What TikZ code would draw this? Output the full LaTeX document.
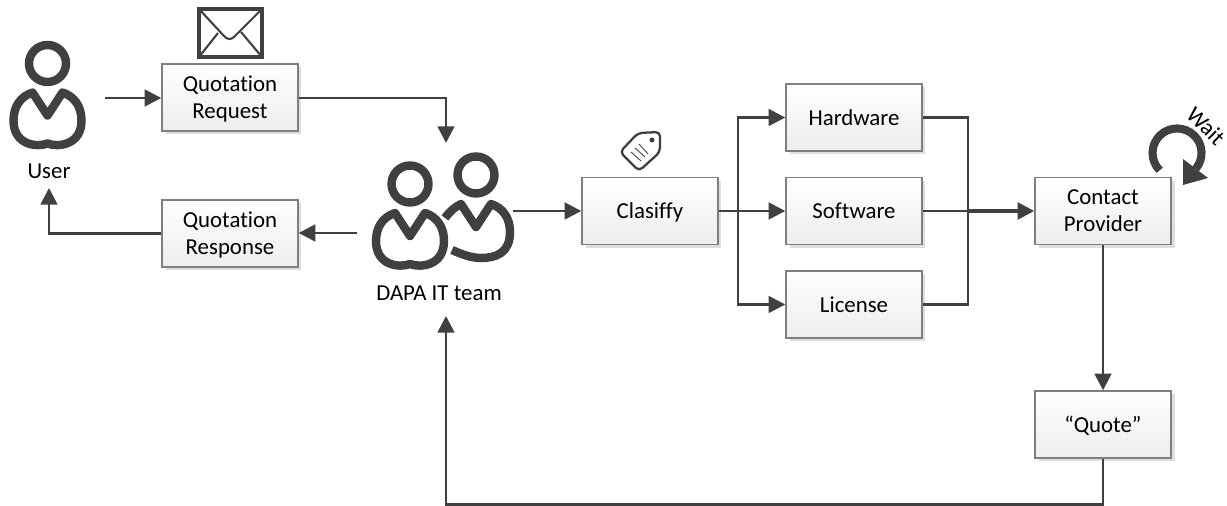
\documentclass[tikz,border=0pt]{standalone}
\usepackage{fontspec}
\setmainfont[Ligatures=NoCommon]{Carlito}
\usepackage{tikz}
\usetikzlibrary{arrows.meta}
\usetikzlibrary{shadows}
\definecolor{icongray}{HTML}{404040}
\definecolor{boxedge}{HTML}{7F7F7F}
\tikzset{
    procbox/.style={draw=boxedge, line width=0.8pt, top color=white, bottom color=black!7,
        minimum width=2.72cm, minimum height=1.34cm, inner sep=0pt, align=center,
        font=\fontsize{13}{15.3}\selectfont, text=black, text depth=0pt,
        general shadow={fill=black!13, shadow xshift=0.07cm, shadow yshift=-0.07cm}},
    caption/.style={font=\fontsize{13}{15.3}\selectfont, text=black},
    flow/.style={draw=icongray, line width=1.5pt, -{Triangle[length=9.5pt,width=9.5pt]}},
    flowline/.style={draw=icongray, line width=1.5pt},
    icon/.style={draw=icongray, line width=4.8pt, line join=round}
}
\newcommand{\personhead}[2]{\draw[icon] (#1,#2) circle (18.5);}
\begin{document}
\begin{tikzpicture}[x=0.02cm,y=0.02cm]
    \useasboundingbox (0,0) rectangle (1227,506);
    % boxes
    \node[procbox] (request) at (230,408.5) {Quotation\\Request};
    \node[procbox] (response) at (230,272.5) {Quotation\\Response};
    \node[procbox] (classify) at (650,295) {Clasiffy};
    \node[procbox] (hardware) at (854,388.5) {Hardware};
    \node[procbox] (software) at (854,295) {Software};
    \node[procbox] (license) at (854,201.5) {License};
    \node[procbox] (contact) at (1103,295) {Contact\\Provider};
    \node[procbox] (quote) at (1103,81.5) {“Quote”};
    % captions
    \node[caption] (user) at (49,335) {User};
    \node[caption] (team) at (439,213) {DAPA IT team};
    \node[caption, rotate=-45] (wait) at (1206,380) {Wait};
    % free ends
    \coordinate (userout) at (105,408);
    \coordinate (userin) at (49,318);
    \coordinate (teamtop) at (446,363);
    \coordinate (teambottom) at (446,190);
    \coordinate (teamout) at (513,295);
    \coordinate (teamin) at (357,273);
    \coordinate (split) at (738,295);
    \coordinate (merge) at (968,295);
    % person on the left
    \personhead{47.5}{442.5}
    \draw[icon] (47.5,362.5) .. controls (57.5,358.5) and (81.5,360.5) .. (81.5,385.5)
        .. controls (81.5,399.5) and (74.5,409.5) .. (62.5,413.5) -- (47.5,390.5) -- (32.5,413.5)
        .. controls (20.5,409.5) and (13.5,399.5) .. (13.5,385.5)
        .. controls (13.5,360.5) and (37.5,358.5) .. (47.5,362.5) -- cycle;
    % team
    \personhead{410}{322}
    \draw[icon] (410,242) .. controls (420,238) and (444,240) .. (444,265)
        .. controls (444,279) and (437,289) .. (425,293) -- (410,270) -- (395,293)
        .. controls (383,289) and (376,279) .. (376,265)
        .. controls (376,240) and (400,238) .. (410,242) -- cycle;
    \personhead{476}{331}
    \draw[icon] (445,288) .. controls (450,295) and (455,299) .. (461,302) -- (476,279) -- (491,302)
        .. controls (503,298) and (510,288) .. (510,274)
        .. controls (510,253) and (496,248) .. (481,248)
        .. controls (471,248) and (461,252) .. (452,256);
    % envelope
    \draw[draw=icongray, line width=2.4pt] (199,449) rectangle (262,497);
    \draw[draw=icongray, line width=1.2pt, line join=round] (199,497) -- (224,470)
        .. controls (227,466) and (232,466) .. (235,470) -- (262,497);
    \draw[draw=icongray, line width=1.2pt] (218,473) -- (199,449);
    \draw[draw=icongray, line width=1.2pt] (241,474) -- (262,449);
    % tag
    \draw[draw=icongray, line width=1.3pt, line join=round, rounded corners=2.5pt]
        (638,373) -- (660,374) -- (660,354) -- (639,335) -- (620,354) -- cycle;
    \fill[icongray] (652,366) circle (2.5);
    \draw[draw=icongray, line width=0.5pt] (631,354) -- (641,345);
    \draw[draw=icongray, line width=0.5pt] (635,358) -- (645,349);
    \draw[draw=icongray, line width=0.5pt] (639,362) -- (648,352);
    % wait arrow
    \draw[draw=icongray, line width=4.6pt] (1159.7,335.7) arc (225:-40:24.5);
    \fill[icongray] (1183,347) -- (1208,328) -- (1183,321) -- cycle;
    % connectors
    \draw[flow] (userout) -- (request.west |- userout);
    \draw[flow] (request.east |- userout) -| (teamtop);
    \draw[flow] (teamout) -- (classify.west);
    \draw[flowline] (classify.east) -- (split);
    \draw[flow] (split) |- (hardware.west);
    \draw[flow] (split) -- (software.west);
    \draw[flow] (split) |- (license.west);
    \draw[flowline] (hardware.east) -| (merge);
    \draw[flowline] (license.east) -| (merge);
    \draw[flowline] (software.east) -- (merge);
    \draw[flow, line width=1.9pt] (merge) -- (contact.west);
    \draw[flow] (contact.south) -- (quote.north);
    \draw[flow] (quote.south) -- ++(0,-46) -| (teambottom);
    \draw[flow] (teamin) -- (response.east |- teamin);
    \draw[flow] (response.west) -| (userin);
\end{tikzpicture}
\end{document}
